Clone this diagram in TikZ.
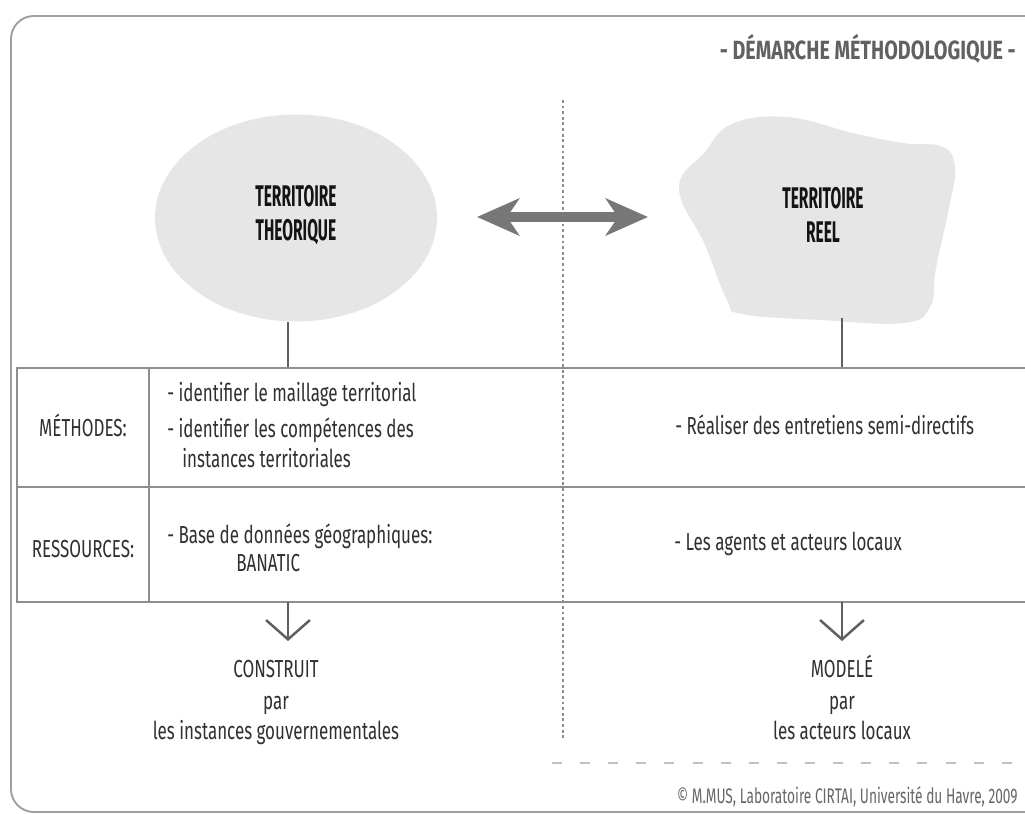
\documentclass[tikz,border=0pt]{standalone}
\usepackage{fontspec}
\setmainfont[FakeStretch=0.69]{Fira Sans}
\newfontfamily\grasfont[FakeStretch=0.52]{Fira Sans}
\newfontfamily\titrefont[FakeStretch=0.75]{Fira Sans}
\newfontfamily\copyfont[FakeStretch=0.65]{Fira Sans}
\usepackage{tikz}
\usetikzlibrary{shapes,arrows.meta}
\definecolor{cadre}{HTML}{A0A0A0}
\definecolor{trait}{HTML}{8E8E8E}
\definecolor{fond}{HTML}{E6E6E6}
\definecolor{fleche}{HTML}{777777}
\definecolor{texte}{HTML}{303030}
\tikzstyle{cadre}=[draw=cadre, line width=1.1pt, rounded corners=13pt]
\tikzstyle{grille}=[draw=trait, line width=1pt]
\tikzstyle{tige}=[draw=fleche!80!black, line width=1.4pt]
\tikzstyle{txt}=[font=\fontsize{14}{16}\selectfont, text=texte, inner sep=0pt, anchor=base]
\tikzstyle{titre}=[font=\grasfont\fontsize{17}{19}\selectfont\bfseries, align=center, text=black!92, inner sep=0pt]
\tikzstyle{bas}=[-{Straight Barb[length=11pt,width=25pt]}]

\begin{document}
\begin{tikzpicture}[x=0.02cm, y=-0.02cm]
\useasboundingbox (0,0) rectangle (1025,814);
\fill[white] (0,0) rectangle (1025,814);
% cadre et titre
\draw[cadre] (1060,16) -- (11,16) -- (11,812) -- (1060,812);
\node[anchor=base east, inner sep=0pt, font=\titrefont\fontsize{15}{18}\selectfont\bfseries, text=black!62] (titre) at (1016,60) {- DÉMARCHE MÉTHODOLOGIQUE -};
\draw[trait, line width=0.6pt, dash pattern=on 1.6pt off 1.6pt] (563,100) -- (563,740);
% les deux territoires
\node[ellipse, fill=fond, minimum width=5.64cm, minimum height=4.14cm] (theo) at (296,218) {};
\node[titre] (theotxt) at (296,215) {TERRITOIRE\\THEORIQUE};
\fill[fond] plot[smooth cycle, tension=0.7] coordinates {(679,188) (705,245) (727,300) (742,314) (820,320) (903,323) (930,307) (936,268) (950,203) (955,168) (943,147) (903,143) (853,133) (787,117) (732,124) (705,152)};
\node[titre] (reel) at (823,215) {TERRITOIRE\\REEL};
\coordinate (flG) at (477,217);
\coordinate (flD) at (648,217);
\draw[fleche, line width=5.8pt, {Stealth[length=24pt,width=21pt,inset=7pt]}-{Stealth[length=24pt,width=21pt,inset=7pt]}] (flG) -- (flD);
% tableau
\coordinate (hautG) at (288,368);
\coordinate (hautD) at (842,368);
\coordinate (basG) at (288,602);
\coordinate (basD) at (842,602);
\draw[tige] (theo.south -| hautG) -- (hautG);
\draw[tige] (842,318) -- (hautD);
\draw[grille] (1060,368) -- (17,368) -- (17,602) -- (1060,602);
\draw[grille] (17,487) -- (1060,487);
\draw[grille] (149,368) -- (149,602);
\node[txt] (meth) at (83,437) {MÉTHODES:};
\node[txt] (ress) at (83,557) {RESSOURCES:};
\node[txt, anchor=base west] (m1) at (167,401) {- identifier le maillage territorial};
\node[txt, anchor=base west] (m2) at (167,438) {- identifier les compétences des};
\node[txt, anchor=base west] (m3) at (182,467) {instances territoriales};
\node[txt, anchor=base west] (r1) at (167,543) {- Base de données géographiques:};
\node[txt, anchor=base west] (r2) at (236,571) {BANATIC};
\node[txt, anchor=base west] (m4) at (675,435) {- Réaliser des entretiens semi-directifs};
\node[txt, anchor=base west] (r3) at (674,550) {- Les agents et acteurs locaux};
% resultats
\draw[tige, bas] (basG) -- (288,641);
\draw[tige, bas] (basD) -- (842,641);
\node[txt] (constr) at (276,677) {CONSTRUIT};
\node[txt] (par1) at (276,709) {par};
\node[txt] (gouv) at (276,739) {les instances gouvernementales};
\node[txt] (model) at (842,677) {MODELÉ};
\node[txt] (par2) at (842,709) {par};
\node[txt] (acteurs) at (842,739) {les acteurs locaux};
\draw[trait!55, line width=0.8pt, dash pattern=on 5.7pt off 10.3pt] (552,763) -- (1025,763);
\node[anchor=base east, inner sep=0pt, font=\copyfont\fontsize{12}{14}\selectfont, text=black!60] (copy) at (1018,803) {© M.MUS, Laboratoire CIRTAI, Université du Havre, 2009};
\end{tikzpicture}
\end{document}
